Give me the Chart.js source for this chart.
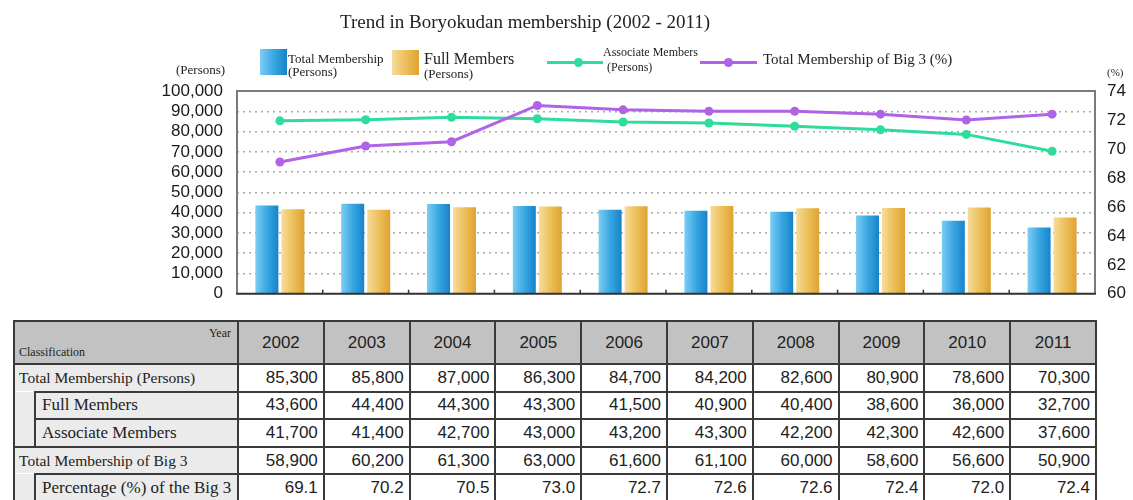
<!DOCTYPE html>
<html lang="en">
<head>
<meta charset="utf-8">
<title>Trend in Boryokudan membership (2002 - 2011)</title>
<script src="https://cdn.jsdelivr.net/npm/chart.js@4.4.1/dist/chart.umd.min.js"></script>
<style>
  html, body { margin:0; padding:0; background:#fff; }
  #page { position:relative; width:1133px; height:500px; overflow:hidden; color:#222;
          font-family:"Liberation Serif","Times New Roman",serif; }
  #chartBox { position:absolute; left:0; top:0; width:1133px; height:318px; }
  .txt { position:absolute; white-space:nowrap; }
  #title { left:340px; top:11px; font-size:19px; }
  #unitLeft { left:176px; top:62px; font-size:13px; }
  #unitRight { left:1107px; top:66px; font-size:11px; }

  .lg { position:absolute; white-space:nowrap; }
  .sw { position:absolute; }
  .ln { position:absolute; height:3px; }
  .dot { position:absolute; width:9px; height:9px; border-radius:50%; }
  .lgtext { position:absolute; white-space:nowrap; line-height:13px; }

  #lg0 .sw { left:260px; top:49px; width:27px; height:26px; }
  #lg0 .lgtext { left:288px; top:52px; font-size:13px; }
  #lg1 .sw { left:392px; top:50px; width:27px; height:25px; }
  #lg1 .lgtext { left:424px; top:50px; font-size:13px; }
  #lg1 .lgtext .first { font-size:16px; line-height:17px; }
  #lg2 .ln { left:547px; top:61px; width:56px; }
  #lg2 .dot { left:574px; top:58px; }
  #lg2 .lgtext { left:603px; top:45px; font-size:12px; line-height:15px; }
  #lg2 .lgtext .second { padding-left:4px; }
  #lg3 .ln { left:700px; top:61px; width:57px; }
  #lg3 .dot { left:724px; top:58px; }
  #lg3 .lgtext { left:763px; top:53px; font-size:15px; }

  #dataTable { position:absolute; left:13px; top:320px; border-collapse:collapse; table-layout:fixed; }
  #dataTable td { border:2px solid #3a3a3a; padding:0; overflow:hidden; white-space:nowrap; }
  #dataTable tr.head td { height:41px; background:#c2c2c2; text-align:center;
                          font-family:"Liberation Sans",Arial,sans-serif; font-size:17px; }
  #dataTable tr.body td { height:25.6px; }
  #dataTable td.num { background:#fff; text-align:right; padding-right:5px;
                      font-family:"Liberation Sans",Arial,sans-serif; font-size:17px; }
  #dataTable td.lab { background:#ebebeb; padding-left:4px; font-size:15.5px; }
  #dataTable td.sub { padding-left:6px; font-size:17px; }
  #dataTable td.ind { background:#ebebeb; border-top-style:hidden; }
  #dataTable td.corner { position:relative; background:#c2c2c2
      linear-gradient(to top right, transparent calc(50% - 1.2px), #3a3a3a 50%, transparent calc(50% + 1.2px)); }
  .corner .yr { position:absolute; right:6px; top:4px; font-family:"Liberation Serif",serif; font-size:12px; }
  .corner .cl { position:absolute; left:4px; bottom:3px; font-family:"Liberation Serif",serif; font-size:12px; }
</style>
</head>
<body>
<div id="page">
  <div id="chartBox"><canvas id="chart"></canvas></div>
  <div id="title" class="txt">Trend in Boryokudan membership (2002 - 2011)</div>
  <div id="unitLeft" class="txt">(Persons)</div>
  <div id="unitRight" class="txt">(%)</div>
  <div id="legend"></div>
  <table id="dataTable"></table>
</div>
<script>
// ---- data ----
const years = ['2002', '2003', '2004', '2005', '2006', '2007', '2008', '2009', '2010', '2011'];
const totalMembership  = [85300, 85800, 87000, 86300, 84700, 84200, 82600, 80900, 78600, 70300];
const fullMembers      = [43600, 44400, 44300, 43300, 41500, 40900, 40400, 38600, 36000, 32700];
const associateMembers = [41700, 41400, 42700, 43000, 43200, 43300, 42200, 42300, 42600, 37600];
const big3Total        = [58900, 60200, 61300, 63000, 61600, 61100, 60000, 58600, 56600, 50900];
const big3Percentage   = [69.1, 70.2, 70.5, 73.0, 72.7, 72.6, 72.6, 72.4, 72.0, 72.4];

const seriesNames = ['Total Membership\n(Persons)', 'Full Members\n(Persons)',
                     'Associate Members\n(Persons)', 'Total Membership of Big 3 (%)'];
const rowNames = ['Total Membership (Persons)', 'Full Members', 'Associate Members',
                  'Total Membership of Big 3', 'Percentage (%) of the Big 3'];
const personsAxis = { min: 0, max: 100000, step: 10000 };
const percentAxis = { min: 60, max: 74, step: 2 };

// ---- styling ----
const BLUE = ['#7ccdf2', '#3aa7e3', '#1683c9'];
const GOLD = ['#f6dc9c', '#ecc05a', '#dfa233'];
const GREEN = '#2fdc9c';
const PURPLE = '#b063e6';
const CAT_PCT = 0.606, BAR_PCT = 0.885;
const TICK_FONT = { family: '"Liberation Sans", Arial, sans-serif', size: 17 };

// horizontal gradient across each bar, placed from the category scale
function barGradient(stops) {
  return (c) => {
    const chart = c.chart, xs = chart.scales && chart.scales.x;
    if (c.type !== 'data' || !xs || !chart.chartArea) return stops[1];
    const cw = xs.width / years.length;
    const slot = cw * CAT_PCT / 2;
    const cx = xs.getPixelForValue(c.dataIndex) + (c.datasetIndex === 0 ? -slot / 2 : slot / 2);
    const half = slot * BAR_PCT / 2;
    const g = chart.ctx.createLinearGradient(cx - half, 0, cx + half, 0);
    g.addColorStop(0, stops[0]);
    g.addColorStop(0.5, stops[1]);
    g.addColorStop(1, stops[2]);
    return g;
  };
}

// frame around the plot and small category-boundary ticks on the base line
const framePlugin = {
  id: 'frame',
  afterDatasetsDraw(chart) {
    const { ctx, chartArea: a } = chart;
    const xs = chart.scales.x;
    ctx.save();
    ctx.lineWidth = 2;
    ctx.strokeStyle = '#7a7a7a';
    ctx.beginPath();
    ctx.moveTo(a.left, a.bottom); ctx.lineTo(a.left, a.top);
    ctx.lineTo(a.right, a.top); ctx.lineTo(a.right, a.bottom);
    ctx.stroke();
    ctx.strokeStyle = '#333';
    ctx.beginPath();
    ctx.moveTo(a.left - 1, a.bottom); ctx.lineTo(a.right + 1, a.bottom);
    ctx.stroke();
    ctx.lineWidth = 1.5;
    ctx.beginPath();
    for (let i = 1; i < years.length; i++) {
      const x = (xs.getPixelForValue(i - 1) + xs.getPixelForValue(i)) / 2;
      ctx.moveTo(x, a.bottom); ctx.lineTo(x, a.bottom - 4);
    }
    ctx.stroke();
    ctx.restore();
  }
};

const chart = new Chart(document.getElementById('chart'), {
  type: 'bar',
  data: {
    labels: years,
    datasets: [
      { type: 'bar', label: seriesNames[0], data: fullMembers, yAxisID: 'y', order: 2,
        backgroundColor: barGradient(BLUE), categoryPercentage: CAT_PCT, barPercentage: BAR_PCT },
      { type: 'bar', label: seriesNames[1], data: associateMembers, yAxisID: 'y', order: 2,
        backgroundColor: barGradient(GOLD), categoryPercentage: CAT_PCT, barPercentage: BAR_PCT },
      { type: 'line', label: seriesNames[2], data: totalMembership, yAxisID: 'y', order: 1,
        borderColor: GREEN, backgroundColor: GREEN, borderWidth: 3,
        pointRadius: 4.5, pointBackgroundColor: GREEN, pointBorderWidth: 0, tension: 0 },
      { type: 'line', label: seriesNames[3], data: big3Percentage, yAxisID: 'y1', order: 0,
        borderColor: PURPLE, backgroundColor: PURPLE, borderWidth: 3,
        pointRadius: 4.5, pointBackgroundColor: PURPLE, pointBorderWidth: 0, tension: 0 }
    ]
  },
  options: {
    responsive: true,
    maintainAspectRatio: false,
    animation: false,
    events: [],
    layout: { padding: { left: 0, right: 0, top: 91, bottom: 23 } },
    plugins: { legend: { display: false }, title: { display: false }, tooltip: { enabled: false } },
    scales: {
      x: { display: false, offset: true },
      y: {
        position: 'left', min: personsAxis.min, max: personsAxis.max,
        afterFit(s) { s.width = 237; },
        ticks: { stepSize: personsAxis.step, autoSkip: false, padding: 14, color: '#1a1a1a', font: TICK_FONT,
                 callback: v => v.toLocaleString('en-US') },
        grid: { color: '#a9a9a9', lineWidth: 1.5, drawTicks: false },
        border: { display: false, dash: [2, 4] }
      },
      y1: {
        position: 'right', min: percentAxis.min, max: percentAxis.max,
        afterFit(s) { s.width = 38; },
        ticks: { stepSize: percentAxis.step, autoSkip: false, padding: 12, color: '#1a1a1a', font: TICK_FONT },
        grid: { display: false, drawTicks: false },
        border: { display: false }
      }
    }
  },
  plugins: [framePlugin]
});

// ---- legend built from the dataset definitions ----
(function buildLegend() {
  const box = document.getElementById('legend');
  chart.data.datasets.forEach((ds, i) => {
    const item = document.createElement('div');
    item.className = 'lg';
    item.id = 'lg' + i;
    const lines = ds.label.split('\n');
    let html = '';
    if (ds.type === 'bar') {
      const st = i === 0 ? BLUE : GOLD;
      html += `<div class="sw" style="background:linear-gradient(to right, ${st[0]}, ${st[1]} 50%, ${st[2]})"></div>`;
    } else {
      html += `<div class="ln" style="background:${ds.borderColor}"></div><div class="dot" style="background:${ds.borderColor}"></div>`;
    }
    html += '<div class="lgtext">' + lines.map((t, k) =>
      `<div class="${k === 0 ? 'first' : 'second'}">${t}</div>`).join('') + '</div>';
    item.innerHTML = html;
    box.appendChild(item);
  });
})();

// ---- table under the chart ----
(function buildTable() {
  const fmtN = n => n.toLocaleString('en-US');
  const fmtP = n => n.toFixed(1);
  const cells = (arr, f) => arr.map(v => `<td class="num">${f(v)}</td>`).join('');
  const colW = 858 / years.length;
  let h = '<colgroup><col style="width:21px"><col style="width:203px">' +
          years.map(() => `<col style="width:${colW}px">`).join('') + '</colgroup>';
  h += '<tr class="head"><td class="corner" colspan="2"><span class="yr">Year</span><span class="cl">Classification</span></td>' +
       years.map(y => `<td>${y}</td>`).join('') + '</tr>';
  h += `<tr class="body"><td class="lab" colspan="2">${rowNames[0]}</td>${cells(totalMembership, fmtN)}</tr>`;
  h += `<tr class="body"><td class="ind" rowspan="2"></td><td class="lab sub">${rowNames[1]}</td>${cells(fullMembers, fmtN)}</tr>`;
  h += `<tr class="body"><td class="lab sub">${rowNames[2]}</td>${cells(associateMembers, fmtN)}</tr>`;
  h += `<tr class="body"><td class="lab" colspan="2">${rowNames[3]}</td>${cells(big3Total, fmtN)}</tr>`;
  h += `<tr class="body"><td class="ind"></td><td class="lab sub">${rowNames[4]}</td>${cells(big3Percentage, fmtP)}</tr>`;
  document.getElementById('dataTable').innerHTML = h;
})();
</script>
</body>
</html>
